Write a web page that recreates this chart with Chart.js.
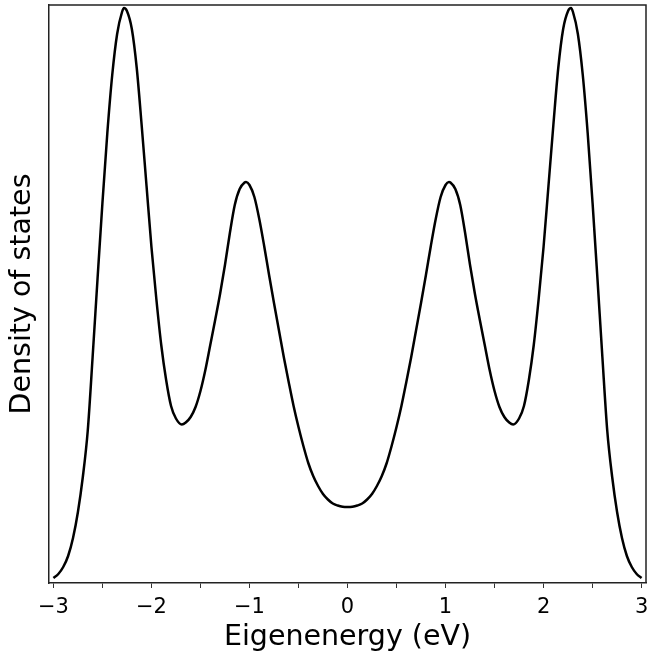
<!DOCTYPE html>
<html>
<head>
<meta charset="utf-8">
<script src="https://cdn.jsdelivr.net/npm/chart.js@4/dist/chart.umd.min.js"></script>
<style>
  html, body { margin: 0; padding: 0; background: #fff; }
  #wrap { width: 647px; height: 661px; }
</style>
</head>
<body>
<div id="wrap"><canvas id="c" width="647" height="661"></canvas></div>
<script>
// Energies (eV)
const energy = [
  -3.00, -2.95, -2.90, -2.85, -2.80, -2.75, -2.70, -2.65, -2.60, -2.55,
  -2.50, -2.45, -2.40, -2.35, -2.30, -2.28, -2.25, -2.20, -2.15, -2.10,
  -2.05, -2.00, -1.95, -1.90, -1.85, -1.80, -1.75, -1.69, -1.65, -1.60,
  -1.55, -1.50, -1.45, -1.40, -1.35, -1.30, -1.25, -1.20, -1.15, -1.10,
  -1.05, -1.035, -1.00, -0.95, -0.90, -0.85, -0.80, -0.75, -0.70, -0.65,
  -0.60, -0.55, -0.50, -0.45, -0.40, -0.35, -0.30, -0.25, -0.20, -0.15,
  -0.10, -0.05, 0.00,
  0.05, 0.10, 0.15, 0.20, 0.25, 0.30, 0.35, 0.40, 0.45, 0.50,
  0.55, 0.60, 0.65, 0.70, 0.75, 0.80, 0.85, 0.90, 0.95, 1.00,
  1.035, 1.05, 1.10, 1.15, 1.20, 1.25, 1.30, 1.35, 1.40, 1.45,
  1.50, 1.55, 1.60, 1.65, 1.69, 1.75, 1.80, 1.85, 1.90, 1.95,
  2.00, 2.05, 2.10, 2.15, 2.20, 2.25, 2.28, 2.30, 2.35, 2.40,
  2.45, 2.50, 2.55, 2.60, 2.65, 2.70, 2.75, 2.80, 2.85, 2.90,
  2.95, 3.00
];
// Density of states (arbitrary units)
const dos = [
  5, 9, 16, 27, 45, 71, 106, 152, 226, 304,
  380, 450, 508, 549, 571, 575, 572, 554, 515, 458,
  397, 336, 284, 238, 203, 177, 164.5, 158.5, 160.5, 166,
  176, 192, 213, 238, 263, 289, 318, 350, 378, 394,
  400.5, 401, 398, 386, 364, 337, 308, 280, 253, 226,
  201, 177, 156, 137, 120, 107, 97, 89, 83.5, 79.5,
  77.5, 76.3, 76,
  76.3, 77.5, 79.5, 83.5, 89, 97, 107, 120, 137, 156,
  177, 201, 226, 253, 280, 308, 337, 364, 386, 398,
  401, 400.5, 394, 378, 350, 318, 289, 263, 238, 213,
  192, 176, 166, 160.5, 158.5, 164.5, 177, 203, 238, 284,
  336, 397, 458, 515, 554, 572, 575, 571, 549, 508,
  450, 380, 304, 226, 152, 106, 71, 45, 27, 16,
  9, 5
];
const xTicks = [-3, -2.5, -2, -1.5, -1, -0.5, 0, 0.5, 1, 1.5, 2, 2.5, 3];
const xTickLabels = ['\u22123', '', '\u22122', '', '\u22121', '', '0', '', '1', '', '2', '', '3'];

const points = energy.map((e, i) => ({ x: e, y: dos[i] }));

const frame = {
  id: 'frame',
  afterDraw(chart) {
    const { ctx, chartArea: a } = chart;
    ctx.save();
    ctx.strokeStyle = '#222';
    ctx.lineWidth = 1.5;
    ctx.beginPath();
    ctx.moveTo(a.left, a.top);
    ctx.lineTo(a.right, a.top);
    ctx.lineTo(a.right, a.bottom);
    ctx.stroke();
    ctx.restore();
  }
};

new Chart(document.getElementById('c'), {
  type: 'line',
  data: {
    datasets: [{
      data: points,
      borderColor: '#000',
      borderWidth: 2.5,
      pointRadius: 0,
      fill: false,
      cubicInterpolationMode: 'monotone'
    }]
  },
  options: {
    responsive: false,
    animation: false,
    devicePixelRatio: 1,
    layout: { padding: { left: 0, top: 5, right: 1, bottom: 0 } },
    plugins: { legend: { display: false }, tooltip: { enabled: false } },
    scales: {
      x: {
        type: 'linear',
        min: -3.045,
        max: 3.045,
        afterBuildTicks(scale) { scale.ticks = xTicks.map(v => ({ value: v })); },
        afterFit(scale) { scale.height = 78; scale.paddingLeft = 0; scale.paddingRight = 0; },
        grid: { drawOnChartArea: false, drawTicks: true, tickLength: 5, tickColor: '#333', tickWidth: 1 },
        border: { display: true, color: '#222', width: 1.5 },
        ticks: {
          autoSkip: false,
          maxRotation: 0,
          padding: 7,
          color: '#000',
          font: { family: 'DejaVu Sans', size: 21 },
          callback(value) {
            const i = xTicks.indexOf(value);
            return i >= 0 ? xTickLabels[i] : '';
          }
        },
        title: {
          display: true,
          text: 'Eigenenergy (eV)',
          color: '#000',
          font: { family: 'DejaVu Sans', size: 28.5 },
          padding: { top: 0, bottom: 6 }
        }
      },
      y: {
        type: 'linear',
        min: 0,
        max: 578,
        afterFit(scale) { scale.width = 49; scale.paddingTop = 0; scale.paddingBottom = 0; },
        grid: { display: false },
        border: { display: true, color: '#222', width: 1.5 },
        ticks: { display: false },
        title: {
          display: true,
          text: 'Density of states',
          color: '#000',
          font: { family: 'DejaVu Sans', size: 28.5 },
          padding: { top: 5, bottom: 0 }
        }
      }
    }
  },
  plugins: [frame]
});
</script>
</body>
</html>
